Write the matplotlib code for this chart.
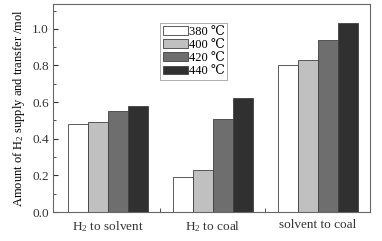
import matplotlib
matplotlib.use("Agg")
import matplotlib.pyplot as plt
import numpy as np
from matplotlib.ticker import MultipleLocator, FixedLocator

plt.rcParams['font.family'] = ['Liberation Serif', 'DejaVu Serif']
plt.rcParams['mathtext.fontset'] = 'custom'
plt.rcParams['mathtext.rm'] = 'Liberation Serif'
plt.rcParams['mathtext.it'] = 'Liberation Serif:italic'

categories = ["H$_2$ to solvent", "H$_2$ to coal", "solvent to coal"]
series_labels = ["380 \u2103", "400 \u2103", "420 \u2103", "440 \u2103"]
v380 = [0.48, 0.19, 0.80]
v400 = [0.49, 0.23, 0.83]
v420 = [0.55, 0.51, 0.94]
v440 = [0.58, 0.62, 1.03]
series = [v380, v400, v420, v440]
colors = ["#ffffff", "#c0c0c0", "#6e6e6e", "#303030"]

fig = plt.figure(figsize=(3.82, 2.41), dpi=100)
ax = fig.add_axes([0.139, 0.120, 0.830, 0.863])
x = np.arange(len(categories))
w = 0.19
for i, (vals, c, lab) in enumerate(zip(series, colors, series_labels)):
    ax.bar(x + (i - 1.5) * w, vals, w, color=c, edgecolor="#404040", linewidth=0.6, label=lab)

ax.set_xlim(-0.52, 2.5)
ax.set_ylim(0, 1.135)
ax.yaxis.set_major_locator(MultipleLocator(0.2))
ax.yaxis.set_minor_locator(MultipleLocator(0.1))
ax.yaxis.set_major_formatter(matplotlib.ticker.FormatStrFormatter('%.1f'))
ax.set_xticks(x)
ax.set_xticklabels(categories)
ax.xaxis.set_minor_locator(FixedLocator([0.5, 1.5]))
ax.tick_params(axis='both', which='both', direction='in', labelsize=9.5, colors='#333333')
ax.tick_params(axis='x', which='major', length=0, pad=5)
ax.tick_params(axis='x', which='minor', length=3)
ax.tick_params(axis='y', which='major', length=3.5, pad=3)
ax.tick_params(axis='y', which='minor', length=2)
for s in ax.spines.values():
    s.set_color('#666666')
    s.set_linewidth(0.8)
ax.set_ylabel("Amount of H$_2$ supply and transfer /mol", fontsize=9, labelpad=4)
leg = ax.legend(loc='upper left', bbox_to_anchor=(0.3375, 0.909), fontsize=9, frameon=True,
                fancybox=False, edgecolor='#888888', handlelength=2.0, handleheight=0.7,
                handletextpad=0.1, labelspacing=0.1, borderpad=0.2, borderaxespad=0)
leg.get_frame().set_linewidth(0.6)
fig.savefig("out.png", dpi=100)
